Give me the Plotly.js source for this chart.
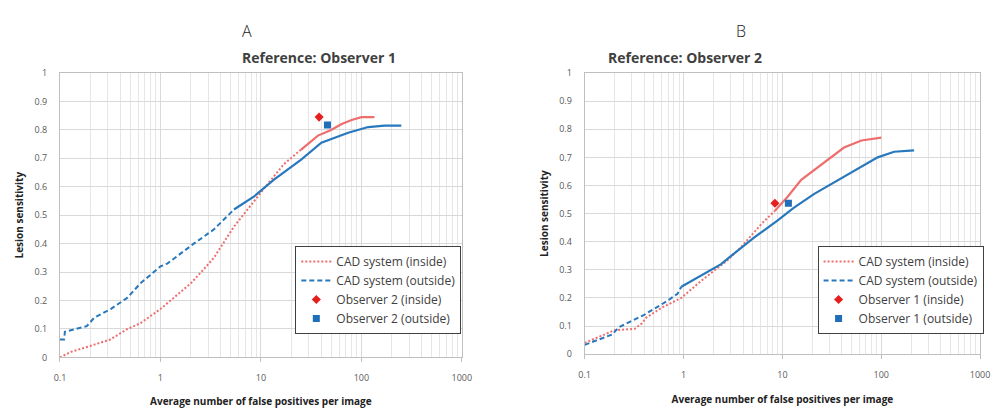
<!DOCTYPE html>
<html>
<head>
<meta charset="utf-8">
<script src="https://cdn.plot.ly/plotly-3.0.1.min.js"></script>
<style>html,body{margin:0;padding:0;background:#fff;}#chart{width:991px;height:408px;}</style>
</head>
<body>
<div id="chart"></div>
<script>
// Panel A (Reference: Observer 1)
const aInsideX = [0.1, 0.13, 0.2, 0.316, 0.47, 0.63, 1.0, 1.58, 2.0, 2.7, 3.4, 5.4, 8.5, 11.7, 17, 25, 37, 50, 63, 80, 100, 135];
const aInsideY = [0.0, 0.02, 0.04, 0.063, 0.10, 0.12, 0.17, 0.23, 0.26, 0.31, 0.35, 0.46, 0.55, 0.61, 0.68, 0.73, 0.78, 0.80, 0.82, 0.835, 0.845, 0.845];
const aOutsideX = [0.1, 0.11, 0.112, 0.185, 0.22, 0.32, 0.47, 0.63, 1.0, 1.17, 2.15, 3.4, 5.4, 8.5, 13.5, 25, 40, 74, 117, 170, 250];
const aOutsideY = [0.063, 0.063, 0.09, 0.11, 0.14, 0.17, 0.21, 0.26, 0.32, 0.33, 0.40, 0.45, 0.52, 0.565, 0.625, 0.695, 0.755, 0.79, 0.81, 0.815, 0.815];
const aObsInside = {x: [38], y: [0.845]};
const aObsOutside = {x: [46], y: [0.817]};

// Panel B (Reference: Observer 2)
const bInsideX = [0.1, 0.2, 0.32, 0.38, 0.42, 0.6, 0.95, 1.5, 2.8, 3.8, 6.2, 8.4, 11.3, 15.5, 28, 42, 63, 100];
const bInsideY = [0.04, 0.085, 0.09, 0.11, 0.13, 0.165, 0.20, 0.26, 0.335, 0.38, 0.465, 0.51, 0.56, 0.62, 0.69, 0.735, 0.76, 0.77];
const bOutsideX = [0.1, 0.19, 0.22, 0.4, 0.69, 0.87, 0.95, 1.5, 2.4, 2.8, 5.2, 8.9, 13, 21, 42, 63, 92, 135, 215];
const bOutsideY = [0.033, 0.07, 0.095, 0.14, 0.19, 0.215, 0.24, 0.28, 0.32, 0.34, 0.415, 0.475, 0.52, 0.57, 0.63, 0.665, 0.70, 0.72, 0.725];
const bObsInside = {x: [8.4], y: [0.537]};
const bObsOutside = {x: [11.5], y: [0.537]};

const xTickVals = [0.1, 1, 10, 100, 1000];
const xTickText = ['0.1', '1', '10', '100', '1000'];
const yTickVals = [0, 0.1, 0.2, 0.3, 0.4, 0.5, 0.6, 0.7, 0.8, 0.9, 1];
const yTickText = ['0', '0.1', '0.2', '0.3', '0.4', '0.5', '0.6', '0.7', '0.8', '0.9', '1'];

const minorVals = [];
[0.1, 1, 10, 100].forEach(d => { for (let k = 2; k <= 9; k++) minorVals.push(d * k); });

const redLine = 'rgb(238,110,110)';
const blueLine = 'rgb(40,120,190)';
const redMark = 'rgb(230,30,30)';
const blueMark = 'rgb(30,110,185)';

function seriesTraces(xs, ys, split, color, dash, name, xa, ya, leg) {
  return [
    {x: xs.slice(0, split + 1), y: ys.slice(0, split + 1), type: 'scatter', mode: 'lines', name: name,
     line: {color: color, width: 2, dash: dash}, xaxis: xa, yaxis: ya, legend: leg},
    {x: xs.slice(split), y: ys.slice(split), type: 'scatter', mode: 'lines', name: name, showlegend: false,
     line: {color: color, width: 2.2, dash: 'solid'}, xaxis: xa, yaxis: ya, legend: leg}
  ];
}

const dotDash = '2px,2px';
const shortDash = '5px,3px';

const traces = [].concat(
  seriesTraces(aInsideX, aInsideY, 15, redLine, dotDash, 'CAD system (inside)', 'x', 'y', 'legend'),
  seriesTraces(aOutsideX, aOutsideY, 12, blueLine, shortDash, 'CAD system (outside)', 'x', 'y', 'legend'),
  [
    {x: aObsInside.x, y: aObsInside.y, type: 'scatter', mode: 'markers', name: 'Observer 2 (inside)',
     marker: {symbol: 'diamond', size: 7, color: redMark}, xaxis: 'x', yaxis: 'y', legend: 'legend'},
    {x: aObsOutside.x, y: aObsOutside.y, type: 'scatter', mode: 'markers', name: 'Observer 2 (outside)',
     marker: {symbol: 'square', size: 7, color: blueMark}, xaxis: 'x', yaxis: 'y', legend: 'legend'}
  ],
  seriesTraces(bInsideX, bInsideY, 11, redLine, dotDash, 'CAD system (inside)', 'x2', 'y2', 'legend2'),
  seriesTraces(bOutsideX, bOutsideY, 6, blueLine, shortDash, 'CAD system (outside)', 'x2', 'y2', 'legend2'),
  [
    {x: bObsInside.x, y: bObsInside.y, type: 'scatter', mode: 'markers', name: 'Observer 1 (inside)',
     marker: {symbol: 'diamond', size: 7, color: redMark}, xaxis: 'x2', yaxis: 'y2', legend: 'legend2'},
    {x: bObsOutside.x, y: bObsOutside.y, type: 'scatter', mode: 'markers', name: 'Observer 1 (outside)',
     marker: {symbol: 'square', size: 7, color: blueMark}, xaxis: 'x2', yaxis: 'y2', legend: 'legend2'}
  ]
);

const tickFont = {family: 'Open Sans, sans-serif', size: 9, color: '#595959'};
const titleFont = {family: 'Open Sans, sans-serif', size: 10, color: '#222', weight: 'bold'};

function xAxis(domain, anchor) {
  return {
    type: 'log', domain: domain, anchor: anchor,
    range: [-1, 3], tickmode: 'array', tickvals: xTickVals, ticktext: xTickText,
    tickfont: tickFont, showgrid: true, gridcolor: '#d9d9d9', gridwidth: 1,
    minor: {tickmode: 'array', tickvals: minorVals, showgrid: true, gridcolor: '#e6e6e6', gridwidth: 1, ticks: ''},
    showline: true, linecolor: '#bfbfbf', mirror: true, ticks: 'outside', ticklen: 4, tickcolor: '#bfbfbf',
    ticklabelstandoff: 8,
    zeroline: false, automargin: false,
    title: {text: 'Average number of false positives per image', font: titleFont, standoff: 16}
  };
}
function yAxis(domain, anchor) {
  return {
    domain: domain, anchor: anchor, range: [0, 1],
    tickmode: 'array', tickvals: yTickVals, ticktext: yTickText,
    tickfont: tickFont, showgrid: true, gridcolor: '#d9d9d9', gridwidth: 1,
    showline: true, linecolor: '#bfbfbf', mirror: true, ticks: '', zeroline: false, automargin: false,
    ticklabelstandoff: 10,
    title: {text: 'Lesion sensitivity', font: titleFont, standoff: 8}
  };
}

const legendStyle = {
  bgcolor: '#ffffff', bordercolor: '#404040', borderwidth: 1,
  font: {family: 'Open Sans, sans-serif', size: 12, color: '#404040'},
  xanchor: 'left', yanchor: 'top', tracegroupgap: 0, itemwidth: 30
};

const layout = {
  width: 991, height: 408,
  margin: {l: 0, r: 0, t: 0, b: 0},
  paper_bgcolor: '#ffffff', plot_bgcolor: '#ffffff',
  showlegend: true,
  xaxis: xAxis([0.0605, 0.466], 'y'),
  yaxis: yAxis([0.124, 0.821], 'x'),
  xaxis2: xAxis([0.590, 0.989], 'y2'),
  yaxis2: yAxis([0.132, 0.821], 'x2'),
  legend: Object.assign({x: 0.298, y: 0.397}, legendStyle),
  legend2: Object.assign({x: 0.825, y: 0.397}, legendStyle),
  annotations: [
    {text: 'A', x: 0.2425, y: 1 - 18 / 408, xref: 'paper', yref: 'paper', showarrow: false,
     font: {family: 'Open Sans, sans-serif', size: 16, color: '#222', weight: 300}},
    {text: 'Reference: Observer 1', x: 0.2425, y: 1 - 46 / 408, xref: 'paper', yref: 'paper', showarrow: false,
     font: {family: 'Open Sans, sans-serif', size: 14, color: '#404040', weight: 'bold'}},
    {text: 'B', x: 0.7547, y: 1 - 18 / 408, xref: 'paper', yref: 'paper', showarrow: false,
     font: {family: 'Open Sans, sans-serif', size: 16, color: '#222', weight: 300}},
    {text: 'Reference: Observer 2', x: 0.771, y: 1 - 46 / 408, xref: 'paper', yref: 'paper', showarrow: false,
     font: {family: 'Open Sans, sans-serif', size: 14, color: '#404040', weight: 'bold'}}
  ]
};

Plotly.newPlot('chart', traces, layout, {staticPlot: true, displayModeBar: false});
</script>
</body>
</html>
